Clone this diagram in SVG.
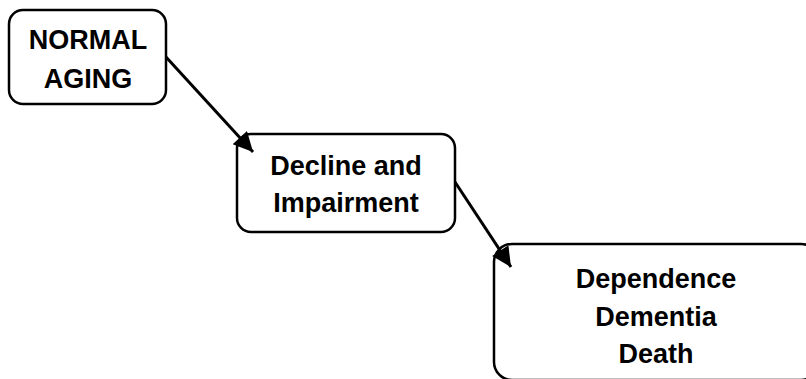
<svg xmlns="http://www.w3.org/2000/svg" width="806" height="379" viewBox="0 0 806 379">
<style>
.box{fill:#fff;stroke:#000;stroke-width:2.5}
.t{font-family:"Liberation Sans",Arial,sans-serif;font-weight:bold;font-size:27px;fill:#000;text-anchor:middle}
.c{stroke:#000;stroke-width:3;fill:none;marker-end:url(#ah)}
</style>
<defs>
<marker id="ah" viewBox="0 0 10 10" refX="10" refY="5" markerWidth="7" markerHeight="6.5" markerUnits="strokeWidth" orient="auto">
<path d="M0,0 L10,5 L0,10 z" fill="#000"/>
</marker>
</defs>
<rect width="806" height="379" fill="#fff"/>
<g id="n1">
<rect class="box" x="9" y="10" width="157" height="94" rx="14"/>
<text class="t" x="88" y="49">NORMAL</text>
<text class="t" x="88" y="88">AGING</text>
</g>
<g id="n2">
<rect class="box" x="237" y="134" width="218" height="98" rx="14"/>
<text class="t" x="346" y="175">Decline and</text>
<text class="t" x="346" y="212">Impairment</text>
</g>
<g id="n3">
<rect class="box" x="494" y="244" width="325" height="136" rx="18"/>
<text class="t" x="656" y="288">Dependence</text>
<text class="t" x="656" y="326">Dementia</text>
<text class="t" x="656" y="363">Death</text>
</g>
<g id="connectors">
<line class="c" x1="166" y1="57" x2="253" y2="152"/>
<line class="c" x1="455" y1="182" x2="511" y2="267"/>
</g>
</svg>
